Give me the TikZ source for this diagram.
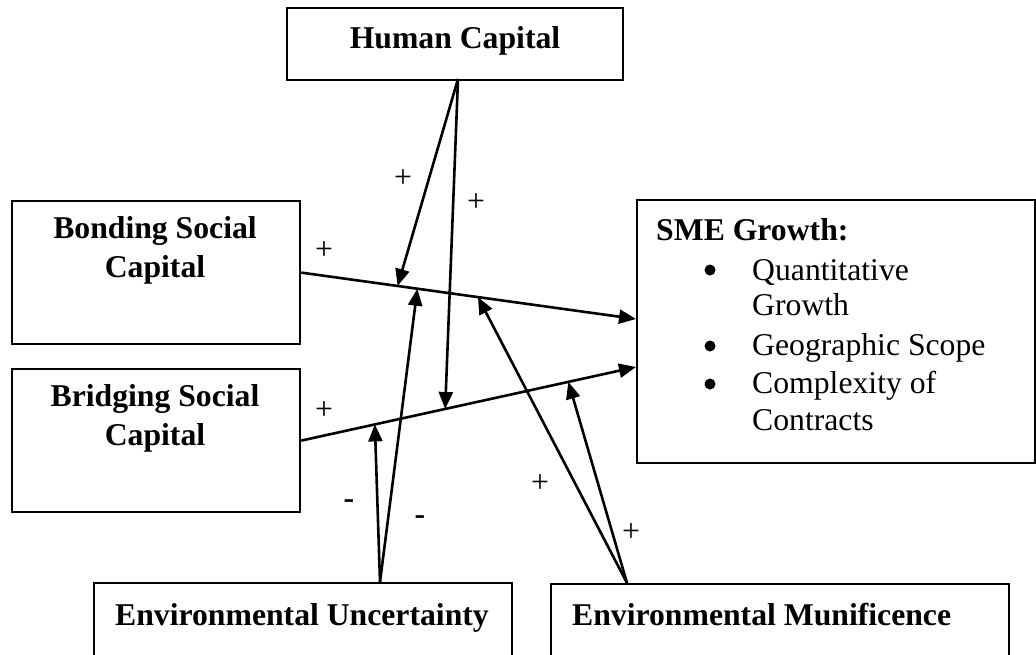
\documentclass[tikz,border=0pt]{standalone}
\usepackage{fontspec}
\setmainfont{Liberation Serif}
\usetikzlibrary{arrows.meta}
\newcommand\diagfont{\fontsize{31.7pt}{39pt}\selectfont}
\begin{document}
\begin{tikzpicture}[x=1pt,y=-1pt,
  box/.style={draw, line width=2.2pt, rectangle, inner sep=0pt, anchor=north west},
  heading/.style={inner sep=0pt, font=\diagfont\bfseries},
  entry/.style={inner sep=0pt, font=\diagfont},
  dot/.style={circle, fill, inner sep=0pt, minimum size=11pt},
  sign/.style={inner sep=0pt, font=\diagfont},
  effect/.style={line width=2.6pt, -{Triangle[length=17pt,width=14pt]}}]
\useasboundingbox (0,0) rectangle (1036,654);
\clip (0,0) rectangle (1036,654);

% boxes
\node[box, minimum width=336pt, minimum height=72pt]  (hc)     at (286,7)   {};
\node[box, minimum width=288pt, minimum height=143pt] (bond)   at (11,200)  {};
\node[box, minimum width=288pt, minimum height=143pt] (bridge) at (11,368)  {};
\node[box, minimum width=398pt, minimum height=263pt] (sme)    at (636,199) {};
\node[box, minimum width=418pt, minimum height=100pt] (eu)     at (93,582)  {};
\node[box, minimum width=458pt, minimum height=100pt] (em)     at (550,583) {};

% box texts
\node[heading, anchor=base] (hcT) at (455,48) {Human Capital};
\node[heading, anchor=base] (bondT1) at (155,238) {Bonding Social};
\node[heading, anchor=base] (bondT2) at (155,277) {Capital};
\node[heading, anchor=base] (bridgeT1) at (155,406) {Bridging Social};
\node[heading, anchor=base] (bridgeT2) at (155,445) {Capital};
\node[heading, anchor=base] (euT) at (302,625) {Environmental Uncertainty};
\node[heading, anchor=base west] (emT) at (572,625) {Environmental Munificence};

\node[heading, anchor=base west] (smeT) at (656,240) {SME Growth:};
\node[dot] (b1) at (710,270) {};
\node[entry, anchor=base west] (i1a) at (752,280) {Quantitative};
\node[entry, anchor=base west] (i1b) at (752,315) {Growth};
\node[dot] (b2) at (710,346) {};
\node[entry, anchor=base west] (i2) at (752,355) {Geographic Scope};
\node[dot] (b3) at (710,384) {};
\node[entry, anchor=base west] (i3a) at (752,393) {Complexity of};
\node[entry, anchor=base west] (i3b) at (752,430) {Contracts};

% end points of the main effects on the outcome box
\coordinate (bondEnd)   at (636,319);
\coordinate (bridgeEnd) at (636,367);
\coordinate (hcOut) at (458,79);
\coordinate (euOut) at (380,582);
\coordinate (emOut) at (627,583);

% main effects
\draw[effect] (bond.east) -- (bondEnd);
\draw[effect] (bridge.east) -- (bridgeEnd);

% points where the moderators meet the main effects
\path (bond.east) -- (bondEnd)
  coordinate[pos=0.288] (bHC) coordinate[pos=0.347] (bEU) coordinate[pos=0.528] (bEM);
\path (bridge.east) -- (bridgeEnd)
  coordinate[pos=0.430] (rHC) coordinate[pos=0.22] (rEU) coordinate[pos=0.798] (rEM);

% moderating effects
\draw[effect] (hcOut) -- (bHC);
\draw[effect] (hcOut) -- (rHC);
\draw[effect] (euOut) -- (bEU);
\draw[effect] (euOut) -- (rEU);
\draw[effect] (emOut) -- (bEM);
\draw[effect] (emOut) -- (rEM);

% signs
\node[sign] (s1) at (403,179) {+};
\node[sign] (s2) at (476,203) {+};
\node[sign] (s3) at (324,251) {+};
\node[sign] (s4) at (324,411) {+};
\node[sign] (s5) at (540,484) {+};
\node[sign] (s6) at (631,533) {+};
\node[sign, font=\diagfont\bfseries, anchor=base] (s7) at (349,508) {-};
\node[sign, font=\diagfont\bfseries, anchor=base] (s8) at (420,524) {-};
\end{tikzpicture}
\end{document}
